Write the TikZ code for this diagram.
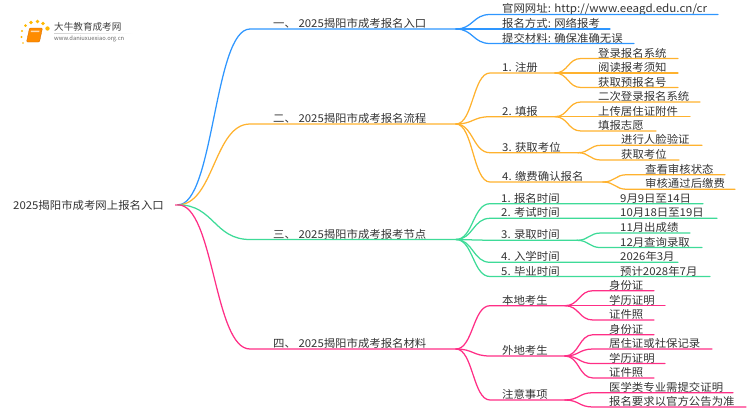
\documentclass[tikz,border=0pt]{standalone}
\usepackage{fontspec}
\setmainfont{Noto Sans CJK SC}
\newfontfamily\lblfont[FakeStretch=1.055]{Noto Sans CJK SC}
\newfontfamily\urlfont[FakeStretch=1.075]{Noto Sans CJK SC}
\usetikzlibrary{calc}
\definecolor{cblue}{HTML}{2E96FF}
\definecolor{corange}{HTML}{FFB22E}
\definecolor{cgreen}{HTML}{3EDB98}
\definecolor{cpink}{HTML}{FF2E86}
\definecolor{ctext}{HTML}{333333}
\tikzset{
  lbl/.style={anchor=west,inner sep=0pt,text=ctext,font=\lblfont\fontsize{10.8}{13}\selectfont},
  conn/.style={line width=1.25pt,line cap=round,line join=round},
  dot/.style={fill=#1,draw=none,circle,inner sep=0pt}
}
% \bra{name}{parent}{xstart}{xend}{yline}{xtext}{ytext}{text}{colour}
\newcommand{\bra}[9]{%
  \coordinate (#1s) at (#3,#5);
  \coordinate (#1) at (#4,#5);
  \node[lbl] (#1t) at (#6,#7+0.5) {#8};
  \draw[conn,#9] (#2) .. controls ($(#2)!0.5!(#2 -| #1s)$) and ($(#1s)!0.5!(#1s -| #2)$) .. (#1s) -- (#1);
}
\begin{document}
\begin{tikzpicture}[x=1pt,y=-1pt]
\useasboundingbox (0,0) rectangle (750,410);
% logo
\foreach \i/\p/\q/\r in {a/23/43/0.9,b/21.5/37/1.1,c/22/31/1.2,d/25.5/25.5/1.5,e/31/22.5/1.8,f/37.5/21.5/1.9,g/43/23.5/1.8,h/47.5/28.5/2.2}{
  \node[dot=orange!55!yellow,minimum size=2*\r pt] (logo\i) at (\p,\q) {};
}
\draw[fill=orange!90!yellow,draw=orange!80!black,line width=.3pt,rounded corners=1pt] (29.5,28) -- (42.5,28) -- (39.5,42) -- (26.5,42) -- cycle;
\fill[white,opacity=.7] (31,30.5) -- (39.5,30.5) -- (39.2,32) -- (30.7,32) -- cycle;
\node[inner sep=0pt,anchor=west,text=black!75,font=\fontsize{9.6}{11}\selectfont] (logot) at (54,27) {大牛教育成考网};
\node[inner sep=0pt,anchor=west,text=black!60,font=\fontsize{5.8}{7}\selectfont] (logou) at (54,38.5) {www.daniuxuexiao.org.cn};
\shade[left color=black!18,right color=white] (54,33.2) rectangle (133,33.9);
% root
\node[lbl] (root) at (13,205) {2025揭阳市成考网上报名入口};
\coordinate (r0) at (175,204.8);
\coordinate (r) at (178,204.8);
\draw[line width=1.4pt,cpink!60] (r0) -- (r);
% level 1
\bra{a}{r}{250}{456}{29}{273}{23}{一、 2025揭阳市成考报名入口}{cblue}
\bra{b}{r}{250}{456}{124}{273}{118}{二、 2025揭阳市成考报名流程}{corange}
\bra{c}{r}{250}{456}{239.5}{273}{234}{三、 2025揭阳市成考报考节点}{cgreen}
\bra{d}{r}{250}{456}{349}{273}{343}{四、 2025揭阳市成考报名材料}{cpink}
% group one
\bra{a1}{a}{490}{718}{14.5}{502}{8.5}{官网网址: {\urlfont http://www.eeagd.edu.cn/cr}}{cblue}
\bra{a2}{a}{490}{610}{29}{502}{23}{报名方式: 网络报考}{cblue}
\bra{a3}{a}{490}{634}{43.5}{502}{37.5}{提交材料: 确保准确无误}{cblue}
% group two
\bra{b1}{b}{490}{555}{73}{502}{67}{1. 注册}{corange}
\bra{b2}{b}{490}{555}{116.7}{502}{110.7}{2. 填报}{corange}
\bra{b3}{b}{490}{578}{152.7}{502}{146.7}{3. 获取考位}{corange}
\bra{b4}{b}{490}{603}{182}{502}{176}{4. 缴费确认报名}{corange}
\bra{b11}{b1}{581}{678}{58.5}{598}{52.5}{登录报名系统}{corange}
\bra{b12}{b1}{581}{678}{73}{598}{67}{阅读报考须知}{corange}
\bra{b13}{b1}{581}{678}{87.5}{598}{81.5}{获取预报名号}{corange}
\bra{b21}{b2}{581}{700}{102}{598}{96}{二次登录报名系统}{corange}
\bra{b22}{b2}{581}{690}{116.7}{598}{110.7}{上传居住证附件}{corange}
\bra{b23}{b2}{581}{656}{131}{598}{125}{填报志愿}{corange}
\bra{b31}{b3}{601}{702}{145.3}{621}{139.3}{进行人脸验证}{corange}
\bra{b32}{b3}{601}{679}{160}{621}{154}{获取考位}{corange}
\bra{b41}{b4}{627}{725}{174.7}{645}{168.7}{查看审核状态}{corange}
\bra{b42}{b4}{627}{735}{189.3}{645}{183.3}{审核通过后缴费}{corange}
% group three
\bra{c1}{c}{490}{703}{203.7}{501}{197.7}{1. 报名时间}{cgreen}
\bra{c2}{c}{490}{717}{218.3}{501}{212.3}{2. 考试时间}{cgreen}
\bra{c3}{c}{490}{577}{240.3}{501}{234.3}{3. 录取时间}{cgreen}
\bra{c4}{c}{490}{678}{262.3}{501}{256.3}{4. 入学时间}{cgreen}
\bra{c5}{c}{490}{710}{276.5}{501}{270.5}{5. 毕业时间}{cgreen}
\node[lbl] (c1v) at (620,198.2) {9月9日至14日};
\node[lbl] (c2v) at (620,212.8) {10月18日至19日};
\node[lbl] (c4v) at (620,256.8) {2026年3月};
\node[lbl] (c5v) at (620,271) {预计2028年7月};
\bra{c31}{c3}{601}{690}{233}{620}{227}{11月出成绩}{cgreen}
\bra{c32}{c3}{601}{702}{247.6}{620}{241.6}{12月查询录取}{cgreen}
% group four
\bra{d1}{d}{490}{565}{305.7}{502}{299.7}{本地考生}{cpink}
\bra{d2}{d}{490}{565}{356}{502}{350}{外地考生}{cpink}
\bra{d3}{d}{490}{565}{400}{502}{394}{注意事项}{cpink}
\bra{d11}{d1}{593}{654}{290.7}{609}{284.7}{身份证}{cpink}
\bra{d12}{d1}{593}{665}{305.7}{609}{299.7}{学历证明}{cpink}
\bra{d13}{d1}{593}{654}{320}{609}{314}{证件照}{cpink}
\bra{d21}{d2}{593}{654}{334.7}{609}{328.7}{身份证}{cpink}
\bra{d22}{d2}{593}{712}{349}{609}{343}{居住证或社保记录}{cpink}
\bra{d23}{d2}{593}{665}{363.6}{609}{357.6}{学历证明}{cpink}
\bra{d24}{d2}{593}{654}{378}{609}{372}{证件照}{cpink}
\bra{d31}{d3}{593}{733}{392.7}{609}{386.7}{医学类专业需提交证明}{cpink}
\bra{d32}{d3}{593}{746}{407}{609}{401}{报名要求以官方公告为准}{cpink}
\end{tikzpicture}
\end{document}
